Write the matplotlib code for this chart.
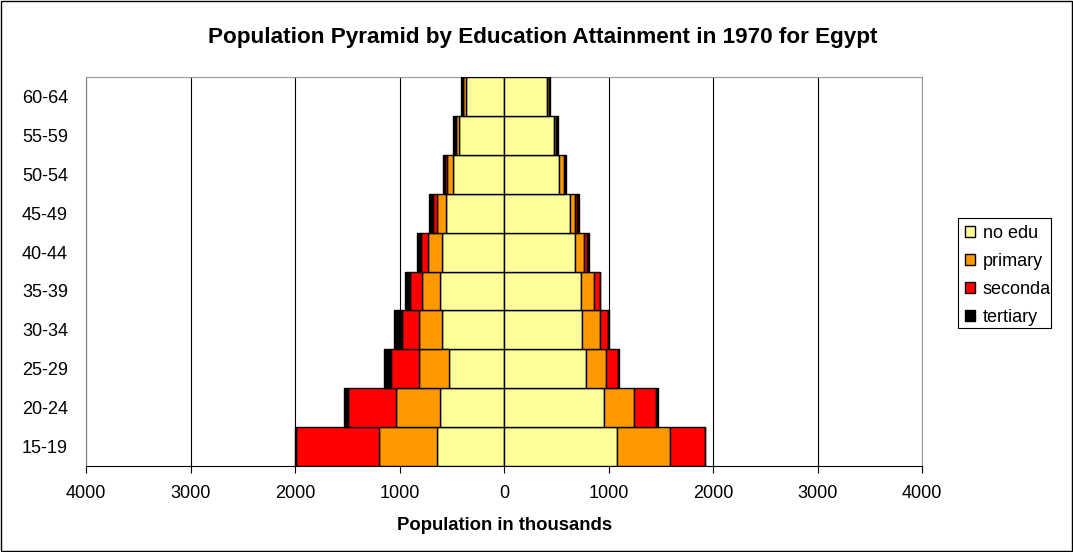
import numpy as np
import matplotlib.pyplot as plt
from matplotlib.patches import Patch, Rectangle

plt.rcParams['font.family'] = ['Liberation Sans', 'DejaVu Sans']

ages = ['15-19', '20-24', '25-29', '30-34', '35-39', '40-44', '45-49', '50-54', '55-59', '60-64']
levels = ['no edu', 'primary', 'secondary', 'tertiary']
colors = ['#FFFF99', '#FF9900', '#FF0000', '#000000']

# males (left side), thousands
male_noedu = [645, 608, 522, 598, 611, 598, 553, 490, 426, 362]
male_primary = [555, 427, 287, 211, 172, 131, 86, 53, 38, 32]
male_secondary = [790, 462, 277, 165, 112, 63, 42, 17, 4, 3]
male_tertiary = [8, 38, 64, 74, 50, 42, 32, 19, 22, 19]

# females (right side), thousands
female_noedu = [1080, 955, 780, 748, 739, 684, 627, 531, 477, 413]
female_primary = [505, 291, 198, 166, 120, 80, 48, 41, 20, 20]
female_secondary = [335, 210, 111, 79, 55, 32, 22, 8, 3, 2]
female_tertiary = [4, 16, 16, 10, 6, 22, 19, 15, 15, 7]

male = [male_noedu, male_primary, male_secondary, male_tertiary]
female = [female_noedu, female_primary, female_secondary, female_tertiary]

W, H = 1073, 552
fig = plt.figure(figsize=(W / 100, H / 100), dpi=100)
ax = fig.add_axes([86 / W, 86 / H, 836 / W, 389 / H])

y = np.arange(len(ages))
left_cum = np.zeros(len(ages))
right_cum = np.zeros(len(ages))
for vals_m, vals_f, c in zip(male, female, colors):
    vm = np.array(vals_m, dtype=float)
    vf = np.array(vals_f, dtype=float)
    ax.barh(y, -vm, left=-left_cum, height=1.0, color=c, edgecolor='black', linewidth=1, zorder=3)
    ax.barh(y, vf, left=right_cum, height=1.0, color=c, edgecolor='black', linewidth=1, zorder=3)
    left_cum += vm
    right_cum += vf

ax.set_xlim(-4000, 4000)
ax.set_ylim(-0.5, len(ages) - 0.5)
xt = np.arange(-4000, 4001, 1000)
ax.set_xticks(xt)
ax.set_xticklabels([str(abs(v)) for v in xt], fontsize=13)
ax.set_yticks(y)
ax.set_yticklabels(ages, fontsize=13)
ax.tick_params(axis='x', length=5, direction='out', pad=9)
ax.tick_params(axis='y', length=0, pad=13)
ax.xaxis.grid(True, color='black', linewidth=0.8, zorder=0)
ax.set_axisbelow(True)
for s in ['top', 'right']:
    ax.spines[s].set_color('#999999')
ax.spines['left'].set_color('#808080')
ax.spines['bottom'].set_color('black')

fig.text(505 / W, 1 - 525 / H, 'Population in thousands', ha='center', va='center',
         fontsize=13.3, fontweight='bold')
fig.text(543 / W, 1 - 38 / H, 'Population Pyramid by Education Attainment in 1970 for Egypt',
         ha='center', va='center', fontsize=16.2, fontweight='bold')

# legend box with clipped text, as in the original
box = Rectangle((958 / W, 1 - 328 / H), 93 / W, 110 / H, transform=fig.transFigure,
                facecolor='white', edgecolor='black', linewidth=0.8)
fig.patches.append(box)
handles = [Patch(facecolor=c, edgecolor='black', label=l) for c, l in zip(colors, levels)]
leg = fig.legend(handles=handles, loc='upper left', bbox_to_anchor=(961 / W, 1 - 221 / H),
                 fontsize=13, frameon=False, handlelength=0.55, handleheight=0.55,
                 handletextpad=0.45, labelspacing=0.62, borderpad=0.2, borderaxespad=0)
for t in leg.get_texts():
    t.set_clip_path(box)

fig.patches.append(Rectangle((0.001, 0.001), 0.998, 0.998, transform=fig.transFigure,
                             fill=False, edgecolor='black', linewidth=1))

fig.savefig('out.png', dpi=100)
